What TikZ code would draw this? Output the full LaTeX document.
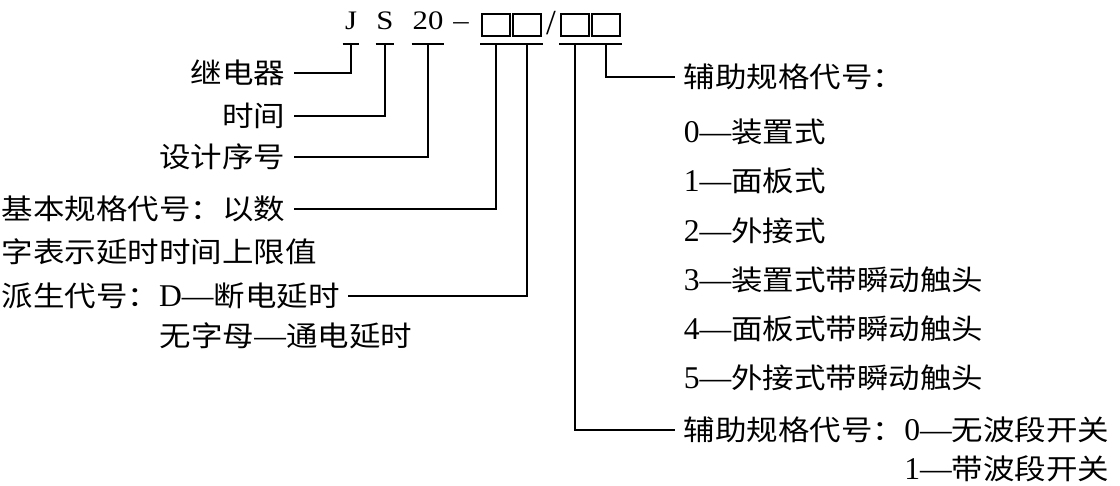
\documentclass[tikz,border=0pt]{standalone}
\usepackage{fontspec}
\setmainfont{Liberation Serif}
\newfontfamily\hdfont{Liberation Serif}[FakeStretch=1.15]
\newfontfamily\zh{Noto Sans CJK SC}[FakeStretch=1.12]
\usetikzlibrary{positioning}

\newcommand\lat[1]{{\rmfamily\fontsize{22.5}{26}\selectfont #1}}
\newcommand\sqbox{{\fboxsep=0pt\fboxrule=1.2pt\fbox{\rule{0pt}{0.52cm}\hspace{0.65cm}}}}

\begin{document}
\begin{tikzpicture}[x=0.025cm, y=-0.025cm, line width=1.3pt,
    slot/.style={inner xsep=0pt, inner ysep=0.33cm, text depth=0pt, anchor=south, font=\hdfont\fontsize{19}{22}\selectfont},
    boxslot/.style={slot, inner ysep=0.19cm, minimum width=0.62cm},
    tag/.style={inner sep=0pt, anchor=base, font=\hdfont\fontsize{19}{22}\selectfont},
    lbl/.style={inner xsep=0.2cm, inner ysep=0pt, font=\zh\fontsize{20}{24}\selectfont}
]
\useasboundingbox (0,0) rectangle (1120,486);

% model code JS20-xx/xx
\node[slot, minimum width=0.375cm] (sJ) at (351,44) {J};
\node[slot, minimum width=0.425cm] (sS) at (385,44) {S};
\node[slot, minimum width=0.75cm] (s20) at (428,44) {20};
\node[tag] (dash) at (461,30) {–};
\node[boxslot] (b1) at (496,44) {\sqbox};
\node[boxslot] (b2) at (527,44) {\sqbox};
\node[tag, font=\rmfamily\fontsize{25}{28}\selectfont] (slash) at (551,35) {/};
\node[boxslot] (b3) at (575,44) {\sqbox};
\node[boxslot] (b4) at (606,44) {\sqbox};

\foreach \n in {sJ,sS,s20,b1,b2,b3,b4}
  \draw (\n.south west) -- (\n.south east);

% left side
\node[lbl, anchor=east] (relay) at (294,73) {继电器};
\node[lbl, anchor=east] (timeL) at (294,116) {时间};
\node[lbl, anchor=east] (design) at (294,157) {设计序号};
\node[lbl, anchor=east] (basic1) at (294,209) {基本规格代号：以数};
\node[lbl, below=1.075cm of basic1.west, anchor=west] (basic2) {字表示延时时间上限值};
\node[lbl, below=1.1cm of basic2.west, anchor=west] (derive1) {派生代号：\lat{D—}断电延时};
\node[lbl, anchor=west] (derive2) at (151,336) {无字母\lat{—}通电延时};

% right side
\node[lbl, anchor=west] (aux1) at (675,77) {辅助规格代号：};
\foreach \i/\t in {0/装置式,1/面板式,2/外接式,3/装置式带瞬动触头,4/面板式带瞬动触头,5/外接式带瞬动触头}
  \node[lbl, anchor=west] (o\i) at (675,132+49.2*\i) {\lat{\i—}\t};
\node[lbl, anchor=west] (aux2) at (675,430) {辅助规格代号：\lat{0—}无波段开关};
\node[lbl, below=0.98cm of aux2.east, anchor=east] (aux3) {\lat{1—}带波段开关};

% connectors
\draw (sJ.south) |- (relay.east);
\draw (sS.south) |- (timeL.east);
\draw (s20.south) |- (design.east);
\draw (b1.south) |- (basic1.east);
\draw (b2.south) |- (derive1.east);
\draw (b3.south) |- (aux2.west);
\draw (b4.south) |- (aux1.west);
\end{tikzpicture}
\end{document}
